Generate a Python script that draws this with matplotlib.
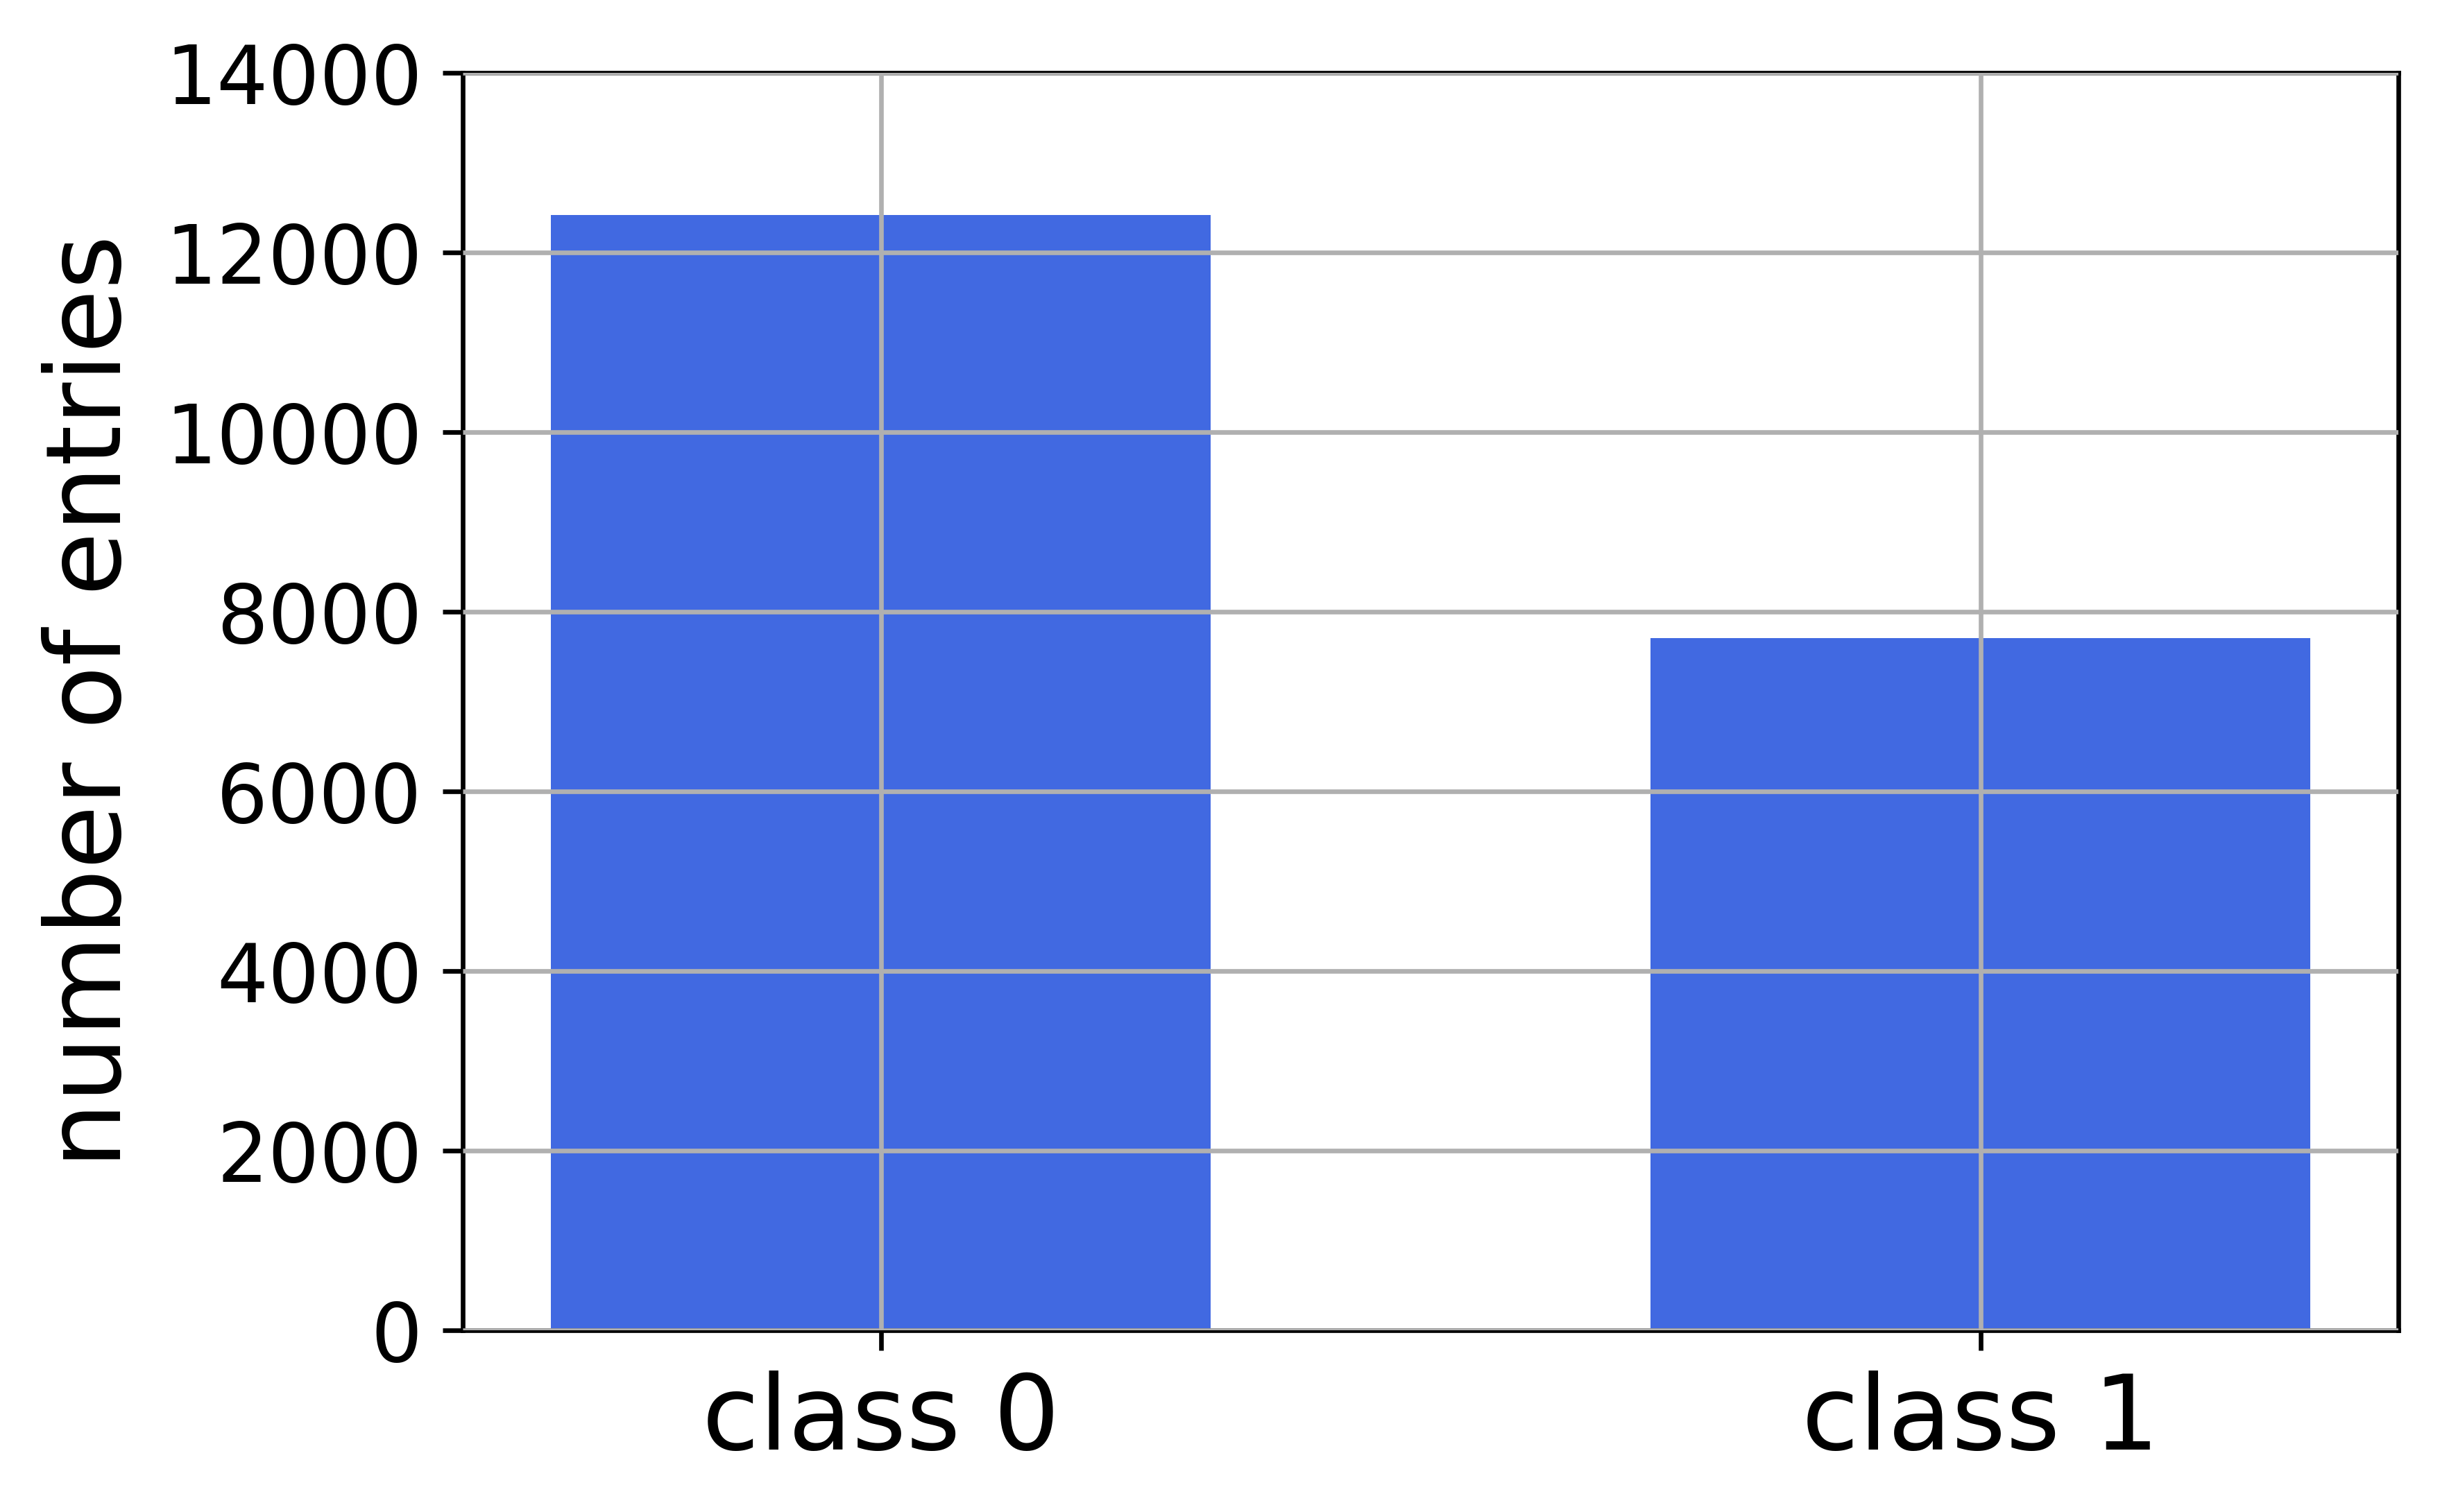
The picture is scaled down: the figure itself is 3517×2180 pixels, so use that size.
import matplotlib
matplotlib.use("Agg")
import matplotlib.pyplot as plt

categories = ["class 0", "class 1"]
counts = [12420, 7705]
yticks = [0, 2000, 4000, 6000, 8000, 10000, 12000, 14000]

fig = plt.figure(figsize=(3517 / 600, 2180 / 600), dpi=600)
ax = fig.add_axes([0.1897, 0.1203, 0.9830 - 0.1897, 0.9518 - 0.1203])
ax.bar(range(len(categories)), counts, width=0.6, color="royalblue", zorder=1)
ax.set_axisbelow(False)
ax.grid(True, color="#b0b0b0", linewidth=0.8, zorder=2)
ax.set_xticks(range(len(categories)))
ax.set_xticklabels(categories, fontsize=18)
ax.set_yticks(yticks)
ax.set_ylim(0, 14000)
ax.tick_params(axis="y", labelsize=14)
ax.set_ylabel("number of entries", fontsize=18)
fig.savefig("out.png", dpi=600)
